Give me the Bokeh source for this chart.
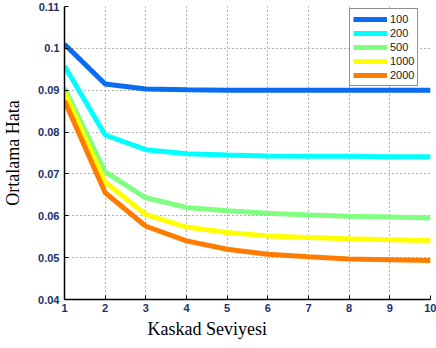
from bokeh.plotting import figure
from bokeh.models import Range1d, FixedTicker, Legend, LegendItem, Title
from bokeh.embed import file_html
from bokeh.resources import INLINE

levels = [1, 2, 3, 4, 5, 6, 7, 8, 9, 10]
series_names = ["100", "200", "500", "1000", "2000"]
err_100 = [0.1010, 0.0915, 0.0903, 0.0901, 0.0900, 0.0900, 0.0900, 0.0900, 0.0900, 0.0900]
err_200 = [0.0958, 0.0793, 0.0758, 0.0748, 0.0745, 0.0743, 0.0742, 0.0742, 0.0741, 0.0741]
err_500 = [0.0905, 0.0705, 0.0643, 0.0620, 0.0612, 0.0606, 0.0602, 0.0599, 0.0597, 0.0595]
err_1000 = [0.0895, 0.0680, 0.0603, 0.0573, 0.0560, 0.0552, 0.0548, 0.0545, 0.0543, 0.0541]
err_2000 = [0.0875, 0.0655, 0.0575, 0.0540, 0.0520, 0.0508, 0.0502, 0.0497, 0.0495, 0.0493]
colors = ["#0a6cf0", "#00ffff", "#80ff80", "#ffff00", "#ff7c00"]
y_ticks = [0.04, 0.05, 0.06, 0.07, 0.08, 0.09, 0.10, 0.11]
y_tick_labels = ["0.04", "0.05", "0.06", "0.07", "0.08", "0.09", "0.1", "0.11"]

p = figure(width=436, height=348, output_backend="svg", toolbar_location=None,
           x_range=Range1d(1, 10), y_range=Range1d(0.04, 0.11),
           min_border_left=60, min_border_right=6, min_border_top=6, min_border_bottom=49)
p.outline_line_color = None

renderers = []
for ys, c in zip([err_100, err_200, err_500, err_1000, err_2000], colors):
    r = p.line(levels, ys, line_color=c, line_width=5)
    renderers.append(r)

legend = Legend(items=[LegendItem(label=n, renderers=[r]) for n, r in zip(series_names, renderers)],
                location=(285, 213))
legend.border_line_color = "#222222"
legend.border_line_width = 1.5
legend.label_text_font = "Liberation Sans"
legend.label_text_font_size = "11px"
legend.label_text_color = "#1a1a1a"
legend.glyph_width = 34
legend.glyph_height = 14
legend.label_height = 14
legend.label_standoff = 3
legend.spacing = 0
legend.padding = 3
legend.margin = 0
legend.background_fill_alpha = 1.0
p.add_layout(legend)

p.xaxis.ticker = FixedTicker(ticks=levels)
p.yaxis.ticker = FixedTicker(ticks=y_ticks)
p.yaxis.major_label_overrides = {t: l for t, l in zip(y_ticks, y_tick_labels)}

for ax in (p.xaxis, p.yaxis):
    ax.axis_line_color = "black"
    ax.axis_line_width = 1.5
    ax.major_tick_in = 4
    ax.major_tick_out = 0
    ax.minor_tick_line_color = None
    ax.major_label_text_font = "Liberation Sans"
    ax.major_label_text_font_size = "11px"
    ax.major_label_text_font_style = "bold"
    ax.major_label_text_color = "#22306a"
    ax.axis_label_text_font = "Liberation Serif"
    ax.axis_label_text_font_size = "18px"
    ax.axis_label_text_font_style = "normal"
    ax.axis_label_text_color = "black"

p.yaxis.axis_label = "Ortalama Hata"
p.xaxis.major_label_standoff = 4
p.yaxis.major_label_standoff = 5
p.yaxis.axis_label_standoff = 12

xtitle = Title(text="Kaskad Seviyesi", align="left", offset=83, standoff=4,
               text_font="Liberation Serif", text_font_size="18px",
               text_font_style="normal", text_color="black")
p.add_layout(xtitle, "below")

for g in (p.xgrid, p.ygrid):
    g.grid_line_color = "#666666"
    g.grid_line_dash = "1 3"
    g.grid_line_width = 1

open("out.html", "w").write(file_html(p, INLINE))
